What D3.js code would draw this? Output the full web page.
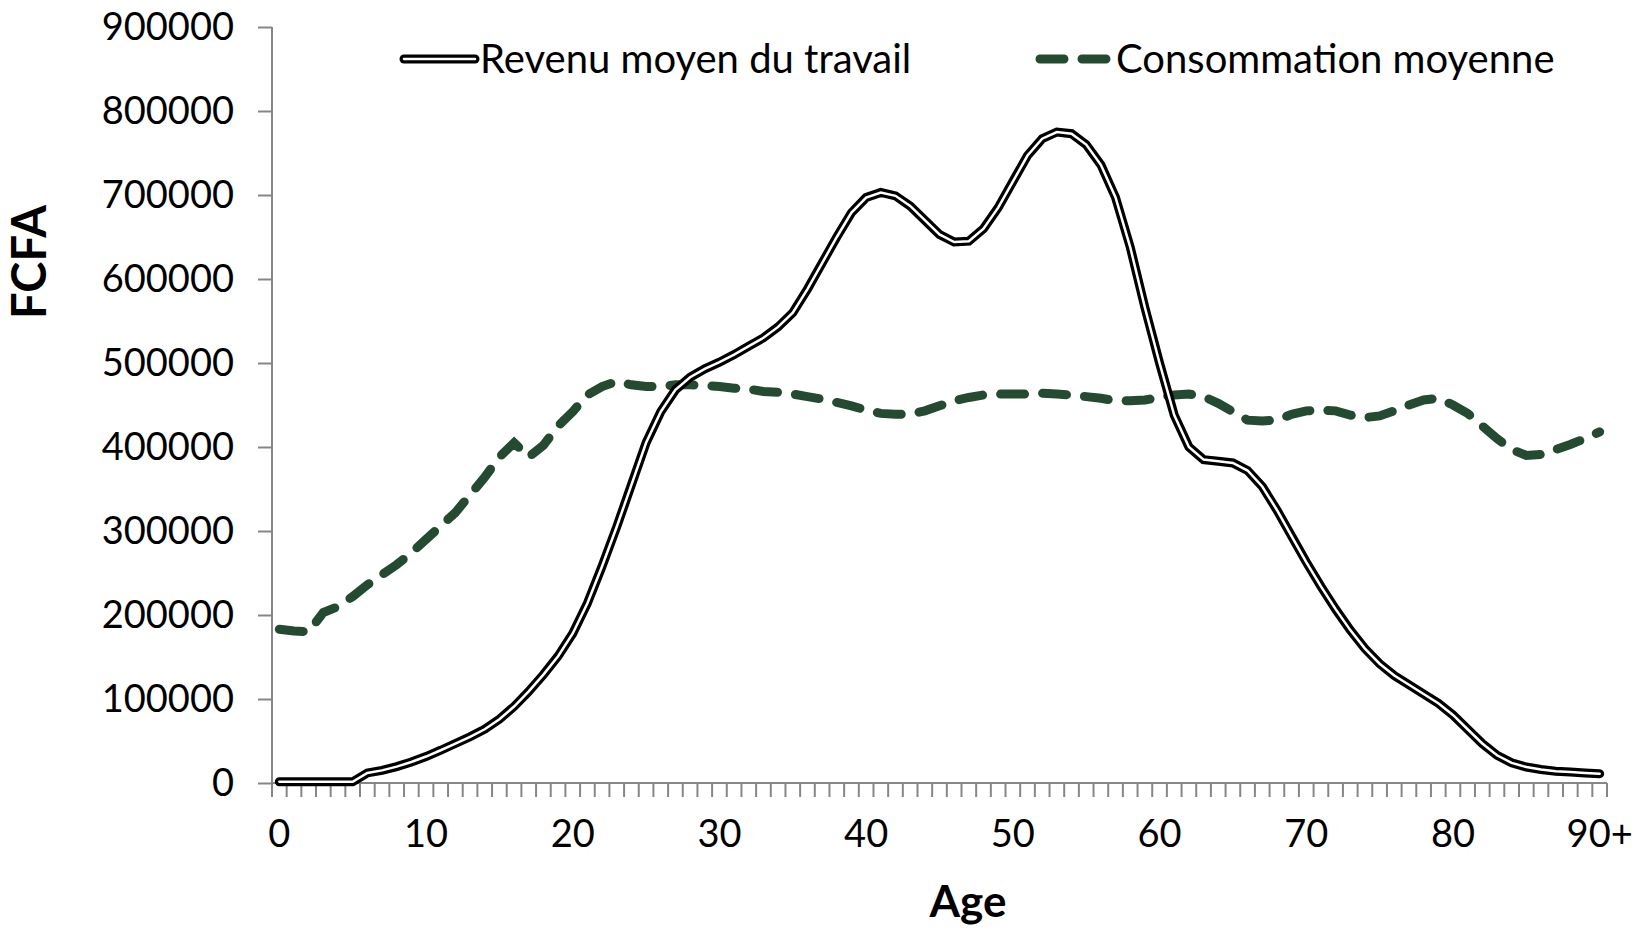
<!DOCTYPE html>
<html>
<head>
<meta charset="utf-8">
<script src="https://cdn.jsdelivr.net/npm/d3@7"></script>
<style>
  body { margin: 0; background: #fff; }
  text { font-family: "Gill Sans MT", "Gill Sans", Lato, sans-serif; fill: #000; }
  .axis path, .axis line { stroke: #868686; stroke-width: 2; }
</style>
</head>
<body>
<svg id="chart" width="1647" height="930"></svg>
<script>
var ages = ["0","1","2","3","4","5","6","7","8","9","10","11","12","13","14","15","16","17","18","19",
            "20","21","22","23","24","25","26","27","28","29","30","31","32","33","34","35","36","37","38","39",
            "40","41","42","43","44","45","46","47","48","49","50","51","52","53","54","55","56","57","58","59",
            "60","61","62","63","64","65","66","67","68","69","70","71","72","73","74","75","76","77","78","79",
            "80","81","82","83","84","85","86","87","88","89","90+"];

// Revenu moyen du travail, by age
var revenu = [1500,1500,1500,1500,1500,1500,12000,15000,19500,25000,
              31500,39000,47000,55000,64000,76000,91000,109000,129000,151000,
              178000,214000,258000,305000,355000,405000,442000,468000,483000,493000,
              501000,510000,520000,530000,543000,560000,588000,619000,650000,679000,
              697000,703000,699000,687000,670000,653000,644000,645000,660000,685000,
              716000,747000,767000,775000,773000,760000,736000,697000,638000,566000,
              500000,438000,400000,385000,383000,381000,372000,353000,325000,294000,
              263000,234000,207000,182000,160000,142000,128000,117000,106000,95000,
              81000,64000,47000,33000,24000,19000,16000,14000,13000,12000,11000];

// Consommation moyenne, by age
var consommation = [183000,181000,180000,203000,210000,222000,236000,248000,260000,274000,
                    290000,306000,322000,343000,364000,388000,405000,388000,402000,425000,
                    442000,462000,472000,478000,474000,472000,472000,474000,474000,473000,
                    472000,470000,469000,466000,465000,463000,460000,457000,453000,449000,
                    444000,440000,439000,439000,443000,449000,455000,459000,462000,463000,
                    463000,463000,464000,463000,462000,460000,458000,455000,455000,456000,
                    459000,462000,463000,460000,452000,442000,432000,431000,432000,439000,
                    443000,444000,443000,438000,435000,437000,443000,450000,456000,458000,
                    450000,440000,425000,410000,397000,390000,391000,397000,403000,410000,418000];

var xTickLabels = ["0","10","20","30","40","50","60","70","80","90+"];
var yTicks = [0,100000,200000,300000,400000,500000,600000,700000,800000,900000];

var margin = {"left":272, "right": 40, "top":27, "bottom":147};
var width = 1647;
var height = 930;
var green = "#244b31";

var svg = d3.select("#chart");

var xScale = d3.scaleBand()
               .domain(ages)
               .range([margin.left, width - margin.right])
               .padding(0);

var yScale = d3.scaleLinear()
               .domain([0, 900000])
               .range([height - margin.bottom, margin.top]);

function xPos(d, i) { return xScale(ages[i]) + xScale.bandwidth() / 2; }

// y axis
var yAxis = d3.axisLeft(yScale)
              .tickValues(yTicks)
              .tickSize(14)
              .tickPadding(24)
              .tickFormat(d3.format("d"));

var gy = svg.append("g")
            .classed("axis", true)
            .attr("transform", "translate(" + margin.left + ",0)")
            .call(yAxis);
gy.select(".domain").attr("d", "M0," + yScale(900000) + "V" + yScale(0));
gy.selectAll("text").style("font-size", "38px");

// x axis: a tick at every band edge, labels every ten years
var x0 = yScale(0);
var gx = svg.append("g").classed("axis", true);
gx.append("line")
  .attr("x1", margin.left).attr("x2", width - margin.right)
  .attr("y1", x0).attr("y2", x0);

var edges = ages.map(function(a) { return xScale(a); });
edges.push(xScale(ages[ages.length - 1]) + xScale.bandwidth());
gx.selectAll(".xtick")
  .data(edges)
  .enter().append("line")
  .attr("class", "xtick")
  .attr("x1", function(d) { return d; })
  .attr("x2", function(d) { return d; })
  .attr("y1", x0)
  .attr("y2", x0 + 14);

svg.append("g").selectAll("text")
   .data(xTickLabels)
   .enter().append("text")
   .attr("x", function(d) { return xScale(d) + xScale.bandwidth() / 2; })
   .attr("y", x0 + 51)
   .attr("dy", "0.35em")
   .attr("text-anchor", "middle")
   .style("font-size", "38px")
   .text(function(d) { return d; });

// axis titles
svg.append("text")
   .attr("x", 968)
   .attr("y", 902)
   .attr("dy", "0.35em")
   .attr("text-anchor", "middle")
   .style("font-size", "44px")
   .style("font-weight", "bold")
   .text("Age");

svg.append("text")
   .attr("transform", "translate(30," + 262 + ") rotate(-90)")
   .attr("dy", "0.35em")
   .attr("text-anchor", "middle")
   .style("font-size", "47px")
   .style("font-weight", "bold")
   .text("FCFA");

// lines
var line = d3.line()
             .x(xPos)
             .y(function(d) { return yScale(d); });

svg.append("path")
   .datum(consommation)
   .attr("d", line)
   .attr("fill", "none")
   .attr("stroke", green)
   .attr("stroke-width", 9)
   .attr("stroke-linecap", "round")
   .attr("stroke-dasharray", "24,18");

svg.append("path")
   .datum(revenu)
   .attr("d", line)
   .attr("fill", "none")
   .attr("stroke", "#000")
   .attr("stroke-width", 9)
   .attr("stroke-linecap", "round");

svg.append("path")
   .datum(revenu)
   .attr("d", line)
   .attr("fill", "none")
   .attr("stroke", "#fff")
   .attr("stroke-width", 2.5)
   .attr("stroke-linecap", "round");

// legend
var lg = svg.append("g");
lg.append("line")
  .attr("x1", 404).attr("x2", 475).attr("y1", 59).attr("y2", 59)
  .attr("stroke", "#000").attr("stroke-width", 9).attr("stroke-linecap", "round");
lg.append("line")
  .attr("x1", 404).attr("x2", 475).attr("y1", 59).attr("y2", 59)
  .attr("stroke", "#fff").attr("stroke-width", 2.5).attr("stroke-linecap", "round");
lg.append("text")
  .attr("x", 480).attr("y", 59).attr("dy", "0.35em")
  .style("font-size", "40px")
  .text("Revenu moyen du travail");

lg.append("line")
  .attr("x1", 1040).attr("x2", 1110).attr("y1", 59).attr("y2", 59)
  .attr("stroke", green).attr("stroke-width", 9).attr("stroke-linecap", "round")
  .attr("stroke-dasharray", "24,18");
lg.append("text")
  .attr("x", 1116).attr("y", 59).attr("dy", "0.35em")
  .style("font-size", "40px")
  .text("Consommation moyenne");
</script>
</body>
</html>
